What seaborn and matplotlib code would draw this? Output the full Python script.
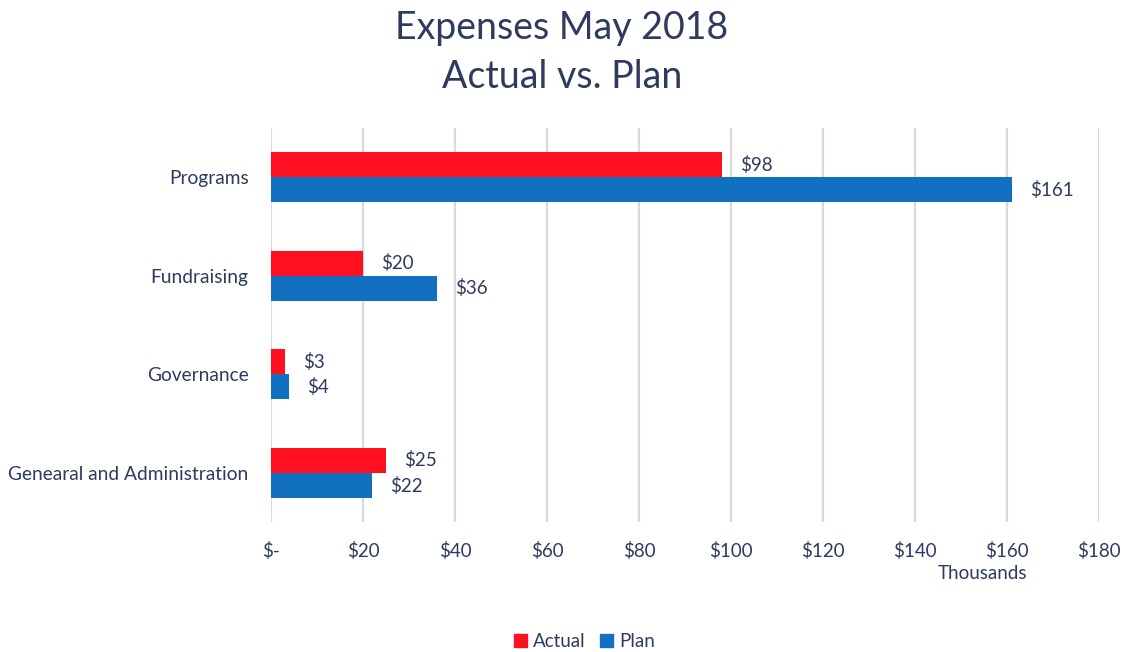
"""
Expenses May 2018 - actual vs plan, horizontal grouped bars
"""

import matplotlib
matplotlib.use("Agg")
import matplotlib.pyplot as plt
import seaborn as sns
import pandas as pd
from matplotlib.patches import Patch

# Data (thousands of dollars)
categories = ["Programs", "Fundraising", "Governance", "Genearal and Administration"]
actual = [98, 20, 3, 25]
plan = [161, 36, 4, 22]
series_names = ["Actual", "Plan"]
x_ticks = [0, 20, 40, 60, 80, 100, 120, 140, 160, 180]
x_tick_labels = ["$-", "$20", "$40", "$60", "$80", "$100", "$120", "$140", "$160", "$180"]

TEXT = "#2E3B5E"
RED = "#FF1021"
BLUE = "#1170C0"

df = pd.DataFrame({
    "Category": categories * 2,
    "Series": [series_names[0]] * len(categories) + [series_names[1]] * len(categories),
    "Value": actual + plan,
})

sns.set_theme(style="white")
plt.rcParams["font.family"] = ["Lato", "DejaVu Sans"]

fig = plt.figure(figsize=(11.24, 6.52), dpi=100)
ax = fig.add_axes([0.241, 0.199, 0.737, 0.605])

sns.barplot(data=df, y="Category", x="Value", hue="Series", orient="h",
            palette=[RED, BLUE], width=0.51, saturation=1, linewidth=0,
            ax=ax, legend=False)

for container in ax.containers:
    ax.bar_label(container, labels=[f"${v:.0f}" for v in container.datavalues],
                 padding=13, fontsize=13.5, color=TEXT)

ax.set_xlim(0, 180)
ax.set_xticks(x_ticks)
ax.set_xticklabels(x_tick_labels, fontsize=13.5, color=TEXT)
ax.tick_params(axis="y", labelsize=13.8, labelcolor=TEXT, length=0, pad=16)
ax.tick_params(axis="x", length=0, pad=14)
ax.set_ylabel("")
ax.set_xlabel("")
ax.grid(axis="x", color="#D9D9D9", linewidth=1.6)
ax.set_axisbelow(True)
for s in ax.spines.values():
    s.set_visible(False)

fig.text(0.874, 0.112, "Thousands", fontsize=13.5, color=TEXT, ha="center")
fig.suptitle("Expenses May 2018\nActual vs. Plan", fontsize=27, color=TEXT,
             y=0.985, linespacing=1.45)

handles = [Patch(color=RED, label="Actual"), Patch(color=BLUE, label="Plan")]
fig.legend(handles=handles, loc="center", bbox_to_anchor=(0.52, 0.016), ncol=2,
           frameon=False, fontsize=13.5, labelcolor=TEXT, handlelength=0.7,
           handleheight=0.7, handletextpad=0.3, columnspacing=0.8)

fig.savefig("out.png", dpi=100)
